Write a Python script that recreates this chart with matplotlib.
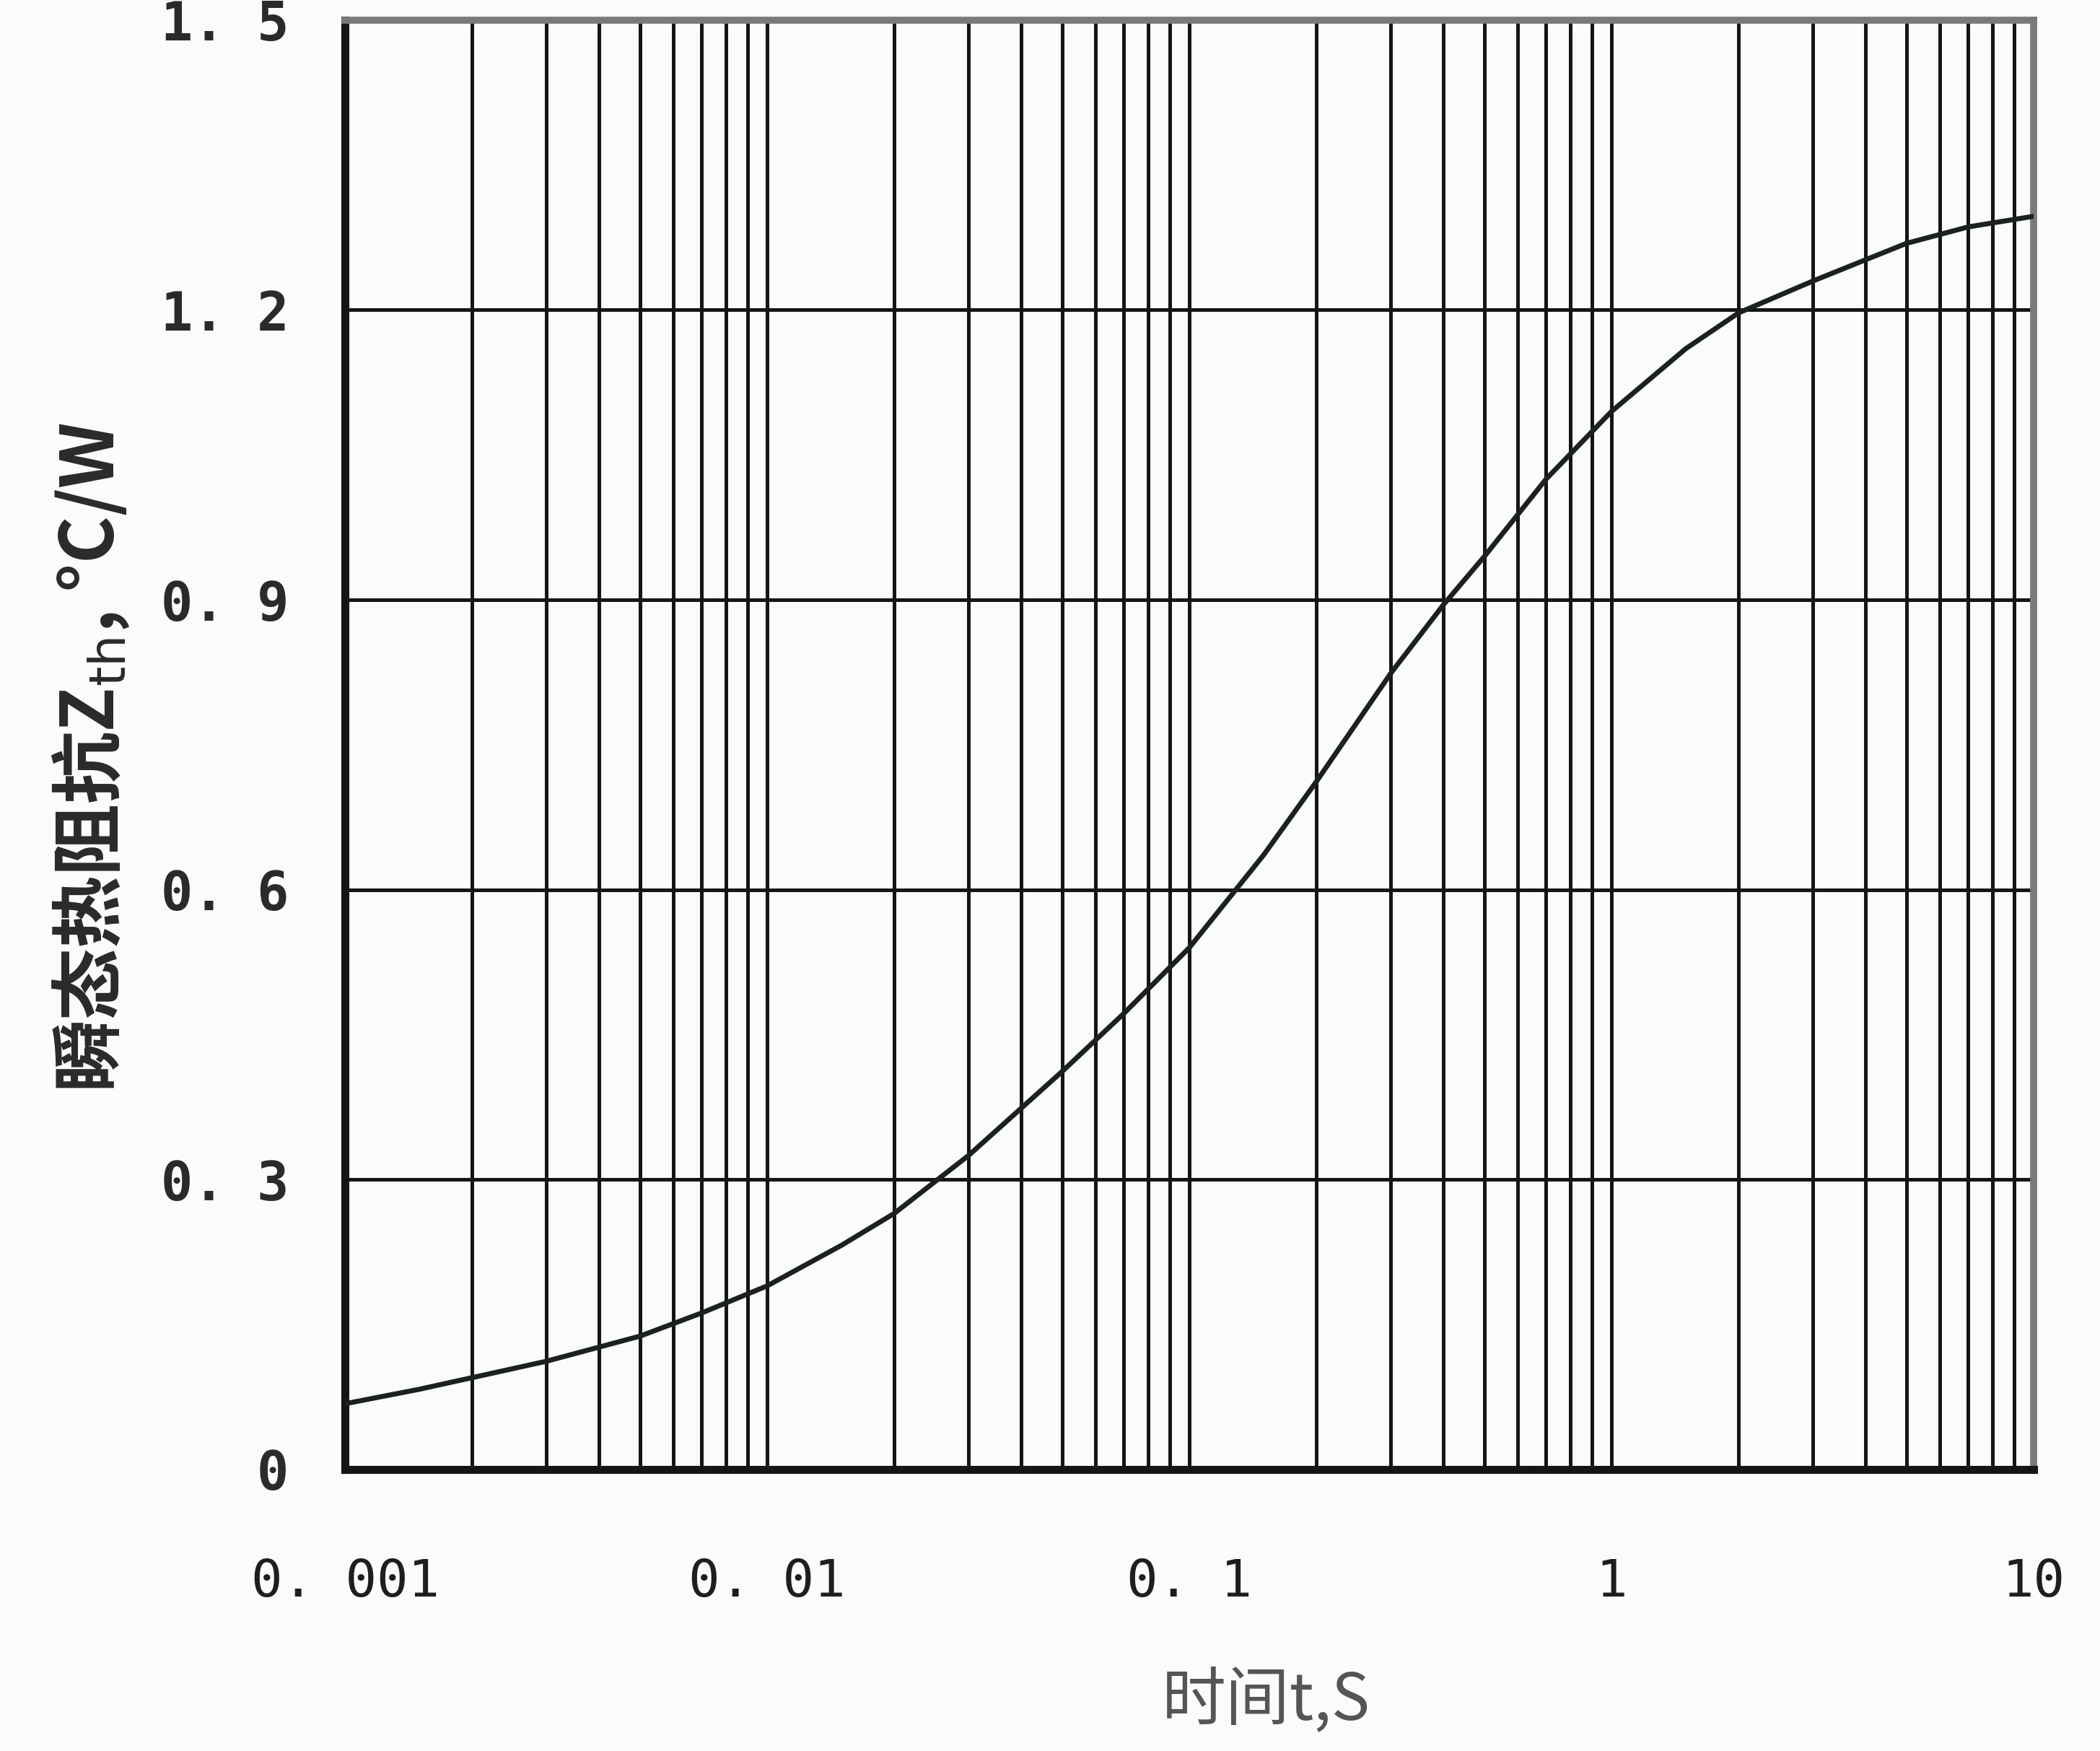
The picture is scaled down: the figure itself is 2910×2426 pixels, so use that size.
import numpy as np
import matplotlib
matplotlib.use("Agg")
import matplotlib.pyplot as plt
from matplotlib.ticker import FixedLocator, LogLocator, NullFormatter

# ---- data ----
time_s = [0.001, 0.0015, 0.002, 0.003, 0.005, 0.007, 0.01, 0.015, 0.02, 0.03,
          0.05, 0.07, 0.1, 0.15, 0.2, 0.3, 0.4, 0.5, 0.7, 1, 1.5, 2, 3, 4, 5,
          7, 10]
zth = [0.068, 0.083, 0.095, 0.112, 0.138, 0.162, 0.19, 0.232, 0.265, 0.325,
       0.412, 0.472, 0.54, 0.636, 0.712, 0.824, 0.895, 0.945, 1.025, 1.095,
       1.16, 1.197, 1.23, 1.252, 1.269, 1.286, 1.297]

x_ticks = [0.001, 0.01, 0.1, 1, 10]
x_ticklabels = ["0. 001", "0. 01", "0. 1", "1", "10"]
y_ticks = [0, 0.3, 0.6, 0.9, 1.2, 1.5]
y_ticklabels = ["0", "0. 3", "0. 6", "0. 9", "1. 2", "1. 5"]

xlabel = "时间t,S"
ylabel = "瞬态热阻抗Z$_{\\mathrm{th}}$, °C/W"

bg = "#fafbfc"
fig = plt.figure(figsize=(29.10, 24.26), dpi=100, facecolor=bg)
ax = fig.add_axes([0.1643, 0.1608, 0.8041, 0.8277], facecolor=bg)

ax.set_xscale("log")
ax.set_xlim(0.001, 10)
ax.set_ylim(0, 1.5)

ax.plot(time_s, zth, color="#1c211f", lw=5.0, solid_capstyle="round",
        solid_joinstyle="round", zorder=3)

ax.xaxis.set_major_locator(FixedLocator(x_ticks))
ax.xaxis.set_minor_locator(LogLocator(base=10, subs=np.arange(2, 10)))
ax.xaxis.set_minor_formatter(NullFormatter())
ax.set_xticks(x_ticks)
ax.set_xticklabels(x_ticklabels)
ax.set_yticks(y_ticks)
ax.set_yticklabels(y_ticklabels)

ax.grid(True, which="both", axis="x", color="#151515", lw=3.6)
ax.grid(True, which="major", axis="y", color="#151515", lw=3.6)

ax.tick_params(axis="both", which="both", length=0)
ax.tick_params(axis="x", pad=88)
ax.tick_params(axis="y", pad=56)
for lab in ax.get_xticklabels():
    lab.set_fontfamily("DejaVu Sans Mono")
    lab.set_fontsize(52)
    lab.set_color("#1e1e1e")
for lab in ax.get_yticklabels():
    lab.set_fontfamily("DejaVu Sans Mono")
    lab.set_fontweight("bold")
    lab.set_fontsize(53)
    lab.set_color("#2a2a2a")

for side in ["left", "bottom"]:
    ax.spines[side].set_color("#151515")
    ax.spines[side].set_linewidth(8)
for side in ["top", "right"]:
    ax.spines[side].set_color("#7a7a7a")
    ax.spines[side].set_linewidth(7)

fig.text(1754 / 2910, 1 - 2357 / 2426, xlabel, ha="center", va="center",
         fontsize=64, color="#555555",
         family=["Noto Sans CJK SC", "DejaVu Sans"])
fig.text(126 / 2910, 1 - 1049 / 2426, ylabel, ha="center", va="center",
         rotation=90, fontsize=72, color="#2a2a2a", fontweight="bold",
         family=["Noto Sans CJK SC", "DejaVu Sans"])

fig.savefig("out.png", dpi=100, facecolor=bg)
